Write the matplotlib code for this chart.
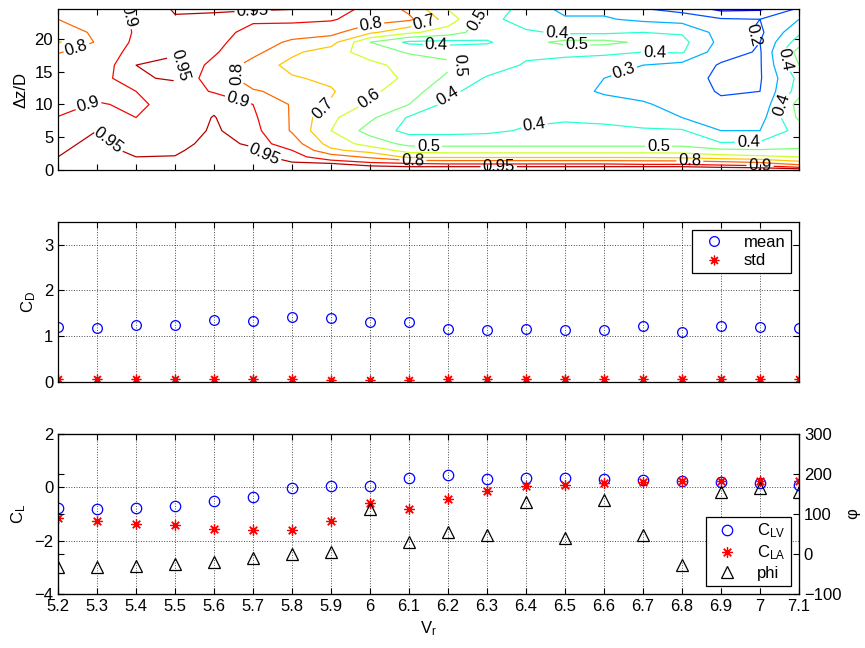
import numpy as np
import matplotlib
matplotlib.use("Agg")
import matplotlib.pyplot as plt
from matplotlib.colors import Normalize
from matplotlib.ticker import FormatStrFormatter

plt.rcParams['font.family'] = ['Liberation Sans', 'DejaVu Sans']
plt.rcParams['mathtext.fontset'] = 'custom'
plt.rcParams['mathtext.rm'] = 'Liberation Sans'
plt.rcParams['mathtext.it'] = 'Liberation Sans:italic'
plt.rcParams['font.size'] = 12

# reduced velocity
vr = [5.2, 5.3, 5.4, 5.5, 5.6, 5.7, 5.8, 5.9, 6.0, 6.1,
      6.2, 6.3, 6.4, 6.5, 6.6, 6.7, 6.8, 6.9, 7.0, 7.1]

# spanwise separation rows of the correlation map
dz = [0, 0.5, 1, 2, 3, 4, 6, 8, 10, 12, 14, 16, 18, 19.5, 21, 23, 24.5]

# correlation, one list per Vr (bottom -> top in dz)
corr_cols = [
    [0.99, 0.98, 0.97, 0.95, 0.945, 0.94, 0.925, 0.902, 0.88, 0.87, 0.86, 0.84, 0.795, 0.69, 0.74, 0.80, 0.85],
    [0.99, 0.985, 0.98, 0.97, 0.965, 0.96, 0.95, 0.93, 0.905, 0.88, 0.87, 0.86, 0.835, 0.81, 0.82, 0.85, 0.87],
    [0.99, 0.98, 0.97, 0.95, 0.94, 0.935, 0.92, 0.90, 0.89, 0.90, 0.945, 0.95, 0.935, 0.92, 0.91, 0.91, 0.91],
    [0.99, 0.985, 0.975, 0.951, 0.945, 0.94, 0.93, 0.925, 0.92, 0.93, 0.955, 0.96, 0.945, 0.935, 0.93, 0.945, 0.955],
    [0.99, 0.985, 0.98, 0.97, 0.965, 0.96, 0.955, 0.952, 0.94, 0.895, 0.865, 0.88, 0.91, 0.92, 0.925, 0.94, 0.955],
    [0.99, 0.985, 0.975, 0.965, 0.955, 0.945, 0.93, 0.915, 0.90, 0.81, 0.75, 0.76, 0.83, 0.86, 0.88, 0.91, 0.955],
    [0.99, 0.975, 0.955, 0.93, 0.90, 0.85, 0.79, 0.79, 0.79, 0.77, 0.71, 0.67, 0.72, 0.78, 0.85, 0.92, 0.95],
    [0.99, 0.97, 0.95, 0.85, 0.72, 0.66, 0.60, 0.62, 0.69, 0.71, 0.68, 0.66, 0.65, 0.74, 0.83, 0.91, 0.93],
    [0.99, 0.96, 0.92, 0.78, 0.66, 0.56, 0.46, 0.52, 0.58, 0.62, 0.65, 0.63, 0.55, 0.50, 0.72, 0.85, 0.88],
    [0.99, 0.95, 0.90, 0.68, 0.56, 0.47, 0.37, 0.39, 0.50, 0.55, 0.58, 0.56, 0.49, 0.38, 0.62, 0.82, 0.78],
    [0.99, 0.95, 0.89, 0.68, 0.55, 0.47, 0.37, 0.35, 0.37, 0.42, 0.48, 0.52, 0.47, 0.37, 0.55, 0.66, 0.60],
    [0.99, 0.95, 0.89, 0.68, 0.55, 0.47, 0.38, 0.35, 0.34, 0.36, 0.39, 0.45, 0.45, 0.39, 0.44, 0.45, 0.48],
    [0.99, 0.95, 0.89, 0.68, 0.55, 0.47, 0.41, 0.38, 0.39, 0.36, 0.37, 0.39, 0.42, 0.46, 0.42, 0.33, 0.35],
    [0.99, 0.95, 0.89, 0.68, 0.55, 0.47, 0.42, 0.39, 0.36, 0.33, 0.34, 0.37, 0.42, 0.53, 0.38, 0.31, 0.28],
    [0.99, 0.95, 0.89, 0.68, 0.55, 0.47, 0.42, 0.38, 0.33, 0.29, 0.30, 0.34, 0.42, 0.53, 0.38, 0.31, 0.28],
    [0.99, 0.95, 0.88, 0.68, 0.55, 0.47, 0.41, 0.36, 0.31, 0.27, 0.26, 0.30, 0.40, 0.48, 0.40, 0.28, 0.21],
    [0.99, 0.95, 0.88, 0.67, 0.55, 0.47, 0.41, 0.30, 0.27, 0.25, 0.24, 0.27, 0.41, 0.43, 0.39, 0.26, 0.17],
    [0.99, 0.94, 0.86, 0.64, 0.52, 0.41, 0.30, 0.25, 0.22, 0.19, 0.18, 0.19, 0.24, 0.27, 0.26, 0.21, 0.08],
    [0.99, 0.93, 0.83, 0.62, 0.51, 0.42, 0.30, 0.26, 0.21, 0.20, 0.19, 0.19, 0.19, 0.20, 0.18, 0.20, 0.09],
    [0.99, 0.88, 0.75, 0.60, 0.52, 0.45, 0.44, 0.52, 0.55, 0.45, 0.43, 0.50, 0.55, 0.45, 0.38, 0.30, 0.22],
]
levels = [0.1, 0.2, 0.3, 0.4, 0.5, 0.6, 0.7, 0.8, 0.9, 0.95]

# drag coefficient
cd_mean = [1.19, 1.17, 1.23, 1.23, 1.35, 1.33, 1.41, 1.40, 1.30, 1.30,
           1.15, 1.13, 1.16, 1.14, 1.12, 1.22, 1.09, 1.22, 1.20, 1.18]
cd_std = [0.05, 0.05, 0.05, 0.05, 0.05, 0.05, 0.05, 0.04, 0.03, 0.04,
          0.05, 0.05, 0.05, 0.05, 0.05, 0.05, 0.05, 0.05, 0.05, 0.05]

# lift coefficient components and phase
cl_v = [-0.76, -0.81, -0.76, -0.69, -0.52, -0.35, -0.04, 0.06, 0.05, 0.36,
        0.48, 0.33, 0.36, 0.35, 0.30, 0.29, 0.24, 0.21, 0.16, 0.10]
cl_a = [-1.15, -1.25, -1.36, -1.40, -1.55, -1.61, -1.59, -1.27, -0.59, -0.80,
        -0.45, -0.14, 0.05, 0.10, 0.16, 0.20, 0.22, 0.22, 0.22, 0.22]
phi = [-32, -32, -29, -25, -19, -11, 0, 6, 112, 29,
       56, 48, 129, 41, 134, 47, -28, 154, 164, 154]

star = (8, 2, 0)
grid_kw = dict(linestyle=':', color='k', linewidth=0.7, alpha=0.7)


def style_axes(ax):
    ax.tick_params(direction='in', top=True, right=True, length=4, width=0.8)
    for s in ax.spines.values():
        s.set_linewidth(0.9)
    ax.set_xlim(5.2, 7.1)
    ax.set_xticks(vr)
    ax.xaxis.set_major_formatter(FormatStrFormatter('%g'))


fig = plt.figure(figsize=(8.65, 6.48), dpi=100)

# --- correlation contour
ax1 = fig.add_axes([0.0671, 0.7377, 0.8566, 0.2477])
X, Z = np.meshgrid(vr, dz)
C = np.array(corr_cols).T
cs = ax1.contour(X, Z, C, levels=levels, cmap='jet',
                 norm=Normalize(vmin=0.0, vmax=1.0), linewidths=0.9)
style_axes(ax1)
ax1.set_ylim(0, 24.5)
ax1.set_yticks([0, 5, 10, 15, 20])
ax1.set_xticklabels([])
ax1.set_ylabel('Δz/D')
label_spots = [(5.24, 20.0), (5.33, 22.5), (5.28, 9.6), (5.33, 4.6), (5.53, 15.8),
               (5.70, 23.4), (5.67, 14.5), (5.66, 10.4), (5.73, 2.6),
               (5.88, 9.4), (6.0, 10.7), (6.0, 23.4), (6.14, 22.3),
               (6.27, 23.2), (6.17, 19.4), (6.25, 15.8), (6.2, 11.2), (6.42, 7.4),
               (6.15, 3.3), (6.11, 1.4), (6.33, 0.5),
               (6.48, 21.9), (6.53, 19.4), (6.73, 19.4), (6.65, 15.3),
               (6.99, 21.0), (7.06, 16.8), (7.06, 9.9), (6.97, 5.0),
               (6.74, 3.9), (6.82, 1.4), (7.0, 0.6)]
ax1.clabel(cs, fmt='%g', fontsize=12, inline=True, inline_spacing=2,
           colors='k', manual=label_spots)

# --- drag
ax2 = fig.add_axes([0.0671, 0.4110, 0.8566, 0.2469])
ax2.plot(vr, cd_mean, 'o', mfc='none', mec='b', ms=7, mew=0.9, label='mean')
ax2.plot(vr, cd_std, linestyle='none', marker=star, color='r', ms=7, mew=0.9, label='std')
style_axes(ax2)
ax2.set_ylim(0, 3.5)
ax2.set_yticks([0, 1, 2, 3])
ax2.set_xticklabels([])
ax2.grid(True, **grid_kw)
ax2.set_ylabel('C$_{\\rm D}$')
leg = ax2.legend(loc='upper right', borderaxespad=0.5, fancybox=False,
                 edgecolor='k', framealpha=1, handletextpad=0.8, borderpad=0.3,
                 labelspacing=0.2)
leg.get_frame().set_linewidth(0.9)

# --- lift
ax3 = fig.add_axes([0.0671, 0.0833, 0.8566, 0.2469])
h1, = ax3.plot(vr, cl_v, 'o', mfc='none', mec='b', ms=7.5, mew=0.9, label='C$_{\\rm LV}$')
h2, = ax3.plot(vr, cl_a, linestyle='none', marker=star, color='r', ms=7.5, mew=0.9,
               label='C$_{\\rm LA}$')
style_axes(ax3)
ax3.set_ylim(-4, 2)
ax3.set_yticks([-4, -2, 0, 2])
ax3.grid(True, **grid_kw)
ax3.set_ylabel('C$_{\\rm L}$')
ax3.set_xlabel('V$_{\\rm r}$')

ax4 = ax3.twinx()
h3, = ax4.plot(vr, phi, '^', mfc='none', mec='k', ms=8, mew=0.9, label='phi')
ax4.set_ylim(-100, 300)
ax4.set_yticks([-100, 0, 100, 200, 300])
ax4.tick_params(direction='in', left=True, length=4, width=0.8)
ax4.set_ylabel('φ', rotation=90, labelpad=3)
leg = ax4.legend(handles=[h1, h2, h3], loc='lower right', borderaxespad=0.5,
                 fancybox=False, edgecolor='k', framealpha=1, handletextpad=0.8,
                 borderpad=0.3, labelspacing=0.2)
leg.get_frame().set_linewidth(0.9)

fig.savefig('out.png', dpi=100)
